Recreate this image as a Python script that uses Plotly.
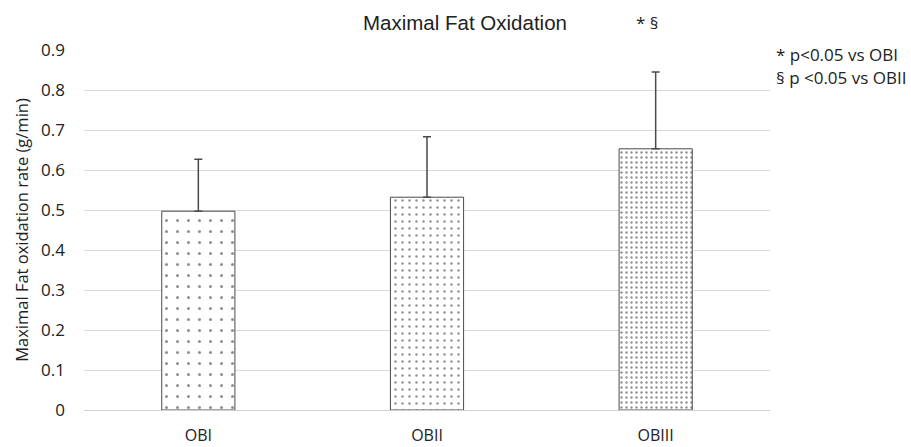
import plotly.graph_objects as go

categories = ["OBI", "OBII", "OBIII"]
means = [0.497, 0.532, 0.653]
sd_plus = [0.130, 0.151, 0.192]
y_ticks = [0, 0.1, 0.2, 0.3, 0.4, 0.5, 0.6, 0.7, 0.8, 0.9]
y_tick_labels = ["0", "0.1", "0.2", "0.3", "0.4", "0.5", "0.6", "0.7", "0.8", "0.9"]
pattern_sizes = [11, 7, 5]
pattern_solidity = [0.06, 0.1, 0.18]

L, R, T, B = 84, 141, 50, 37
W, H = 911, 447
pw = W - L - R
ph = H - T - B


def px(xp):
    return (xp - L) / pw


def py(yp):
    return (H - B - yp) / ph


fig = go.Figure()
fig.add_trace(go.Bar(
    x=categories, y=means,
    marker=dict(
        color="white",
        line=dict(color="#4a4a4a", width=1),
        pattern=dict(shape=".", size=pattern_sizes, solidity=pattern_solidity,
                     fgcolor="#222222", bgcolor="white", fillmode="overlay"),
    ),
    error_y=dict(type="data", array=sd_plus, arrayminus=[0, 0, 0], symmetric=False,
                 color="#4a4a4a", thickness=1.5, width=4),
    width=0.32,
))

font_c = "Open Sans, Noto Sans, sans-serif"
fig.update_layout(
    width=W, height=H,
    margin=dict(l=L, r=R, t=T, b=B, autoexpand=False),
    plot_bgcolor="white", paper_bgcolor="white",
    showlegend=False,
    xaxis=dict(showgrid=False, showline=False, zeroline=False, ticks="",
               automargin=False, ticklabelstandoff=14,
               tickfont=dict(family=font_c, size=16, color="#222")),
    yaxis=dict(range=[0, 0.9], tickvals=y_ticks, ticktext=y_tick_labels,
               showgrid=True, gridcolor="#d9d9d9", gridwidth=1, zeroline=True,
               zerolinecolor="#cfcfcf", zerolinewidth=1, showline=False, ticks="",
               automargin=False, ticklabelstandoff=18,
               tickfont=dict(family=font_c, size=17, color="#222"),
               title=dict(text="Maximal Fat oxidation rate (g/min)", standoff=8,
                          font=dict(family=font_c, size=16.5, color="#222"))),
)
fig.add_annotation(text="Maximal Fat Oxidation", xref="paper", yref="paper", x=px(465), y=py(22),
                   showarrow=False, xanchor="center", yanchor="middle",
                   font=dict(family="Liberation Sans, Arial, sans-serif", size=20.5, color="#222"))
fig.add_annotation(text="* §", xref="paper", yref="paper", x=px(647), y=py(22), showarrow=False,
                   xanchor="center", yanchor="middle",
                   font=dict(family=font_c, size=17, color="#222"))
fig.add_annotation(text="* p<0.05 vs OBI", xref="paper", yref="paper", x=px(774), y=py(55), showarrow=False,
                   xanchor="left", yanchor="middle",
                   font=dict(family=font_c, size=17, color="#222"))
fig.add_annotation(text="§ p <0.05 vs OBII", xref="paper", yref="paper", x=px(774), y=py(78), showarrow=False,
                   xanchor="left", yanchor="middle",
                   font=dict(family=font_c, size=17, color="#222"))

fig.write_html("out.html", config={"displayModeBar": False},
               post_script="document.body.style.margin='0';document.body.style.overflow='hidden';")
